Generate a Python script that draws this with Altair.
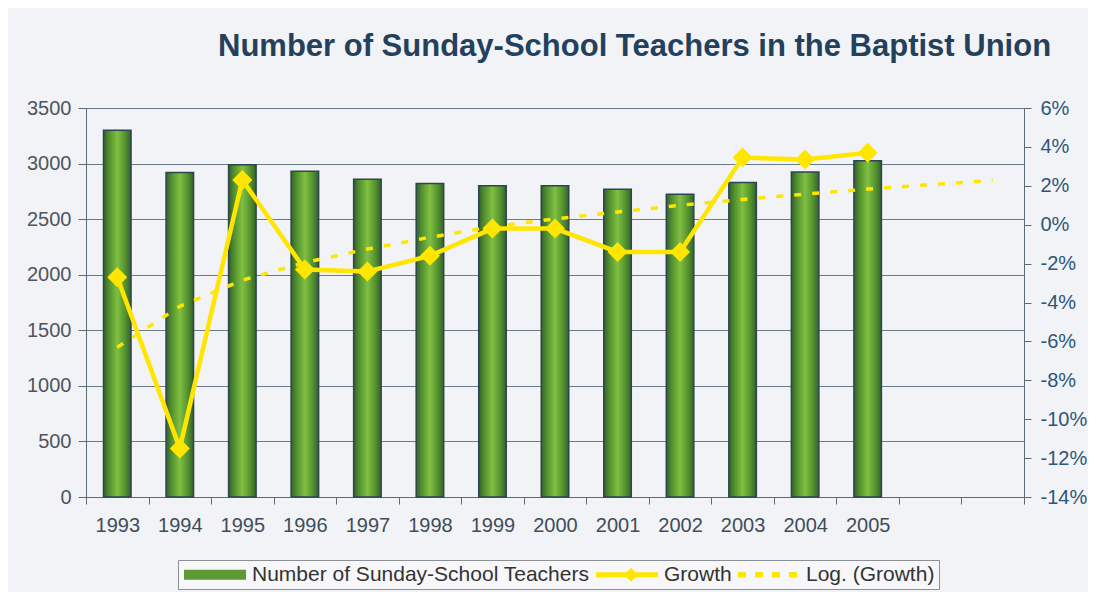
import altair as alt
import pandas as pd

# ---- data ----
years = ["1993", "1994", "1995", "1996", "1997", "1998", "1999",
         "2000", "2001", "2002", "2003", "2004", "2005"]
teachers = [3300, 2920, 2990, 2930, 2860, 2820, 2800, 2800, 2770, 2725, 2830, 2925, 3025]
growth = [-2.7, -11.5, 2.3, -2.3, -2.4, -1.6, -0.2, -0.2, -1.4, -1.4, 3.45, 3.35, 3.7]
# trendline continues two periods beyond the data (blank categories)
trend_x = years + ["+1", "+2"]
trend = [-6.3, -4.2, -2.85, -1.95, -1.25, -0.65, -0.1, 0.3, 0.65, 1.0, 1.3, 1.57, 1.83, 2.06, 2.27]
series_names = ["Number of Sunday-School Teachers", "Growth", "Log. (Growth)"]
left_ticks = [0, 500, 1000, 1500, 2000, 2500, 3000, 3500]
right_ticks = [-14, -12, -10, -8, -6, -4, -2, 0, 2, 4, 6]

FONT = "Liberation Sans"
YELLOW = "#ffe600"

bar_df = pd.DataFrame({"year": years, "teachers": teachers})
growth_df = pd.DataFrame({"year": years, "growth": growth})
trend_df = pd.DataFrame({"year": trend_x, "trend": trend})
legend_df = pd.DataFrame({"series": series_names})

x_enc = alt.X(
    "year:N",
    scale=alt.Scale(domain=trend_x, paddingInner=0, paddingOuter=0),
    axis=alt.Axis(
        title=None, labelAngle=0, tickBand="extent", tickSize=7,
        labelExpr="indexof(datum.label, '+') >= 0 ? '' : datum.label",
        labelFont=FONT, labelFontSize=20, labelColor="#3f4d58", labelPadding=11,
        domainColor="#5b6b78", tickColor="#5b6b78", grid=False,
    ),
)

bar_gradient = alt.Gradient(
    gradient="linear", x1=0, x2=1, y1=0, y2=0,
    stops=[
        alt.GradientStop(color="#36602a", offset=0),
        alt.GradientStop(color="#52902f", offset=0.2),
        alt.GradientStop(color="#80c040", offset=0.5),
        alt.GradientStop(color="#52902f", offset=0.8),
        alt.GradientStop(color="#36602a", offset=1),
    ],
)

bars = alt.Chart(bar_df).mark_bar(
    width=alt.RelativeBandSize(0.44), color=bar_gradient,
    stroke="#2b4650", strokeWidth=1.5,
).encode(
    x=x_enc,
    y=alt.Y(
        "teachers:Q",
        scale=alt.Scale(domain=[0, 3500], nice=False),
        axis=alt.Axis(
            title=None, values=left_ticks, format="d", orient="left",
            labelFont=FONT, labelFontSize=20, labelColor="#4f555c", labelPadding=7,
            tickSize=8, tickColor="#5b6b78", domainColor="#5b6b78",
            grid=True, gridColor="#6a7b89", gridWidth=1,
        ),
    ),
)

right_axis = alt.Axis(
    title=None, values=right_ticks, orient="right", labelOverlap=False,
    labelExpr="datum.value + '%'",
    labelFont=FONT, labelFontSize=20, labelColor="#2d5778", labelPadding=9,
    tickSize=7, tickColor="#5b6b78", domainColor="#5b6b78", grid=False,
)
right_scale = alt.Scale(domain=[-14, 6], nice=False)

trend_line = alt.Chart(trend_df).mark_line(
    color=YELLOW, strokeWidth=3.5, strokeDash=[7, 11],
).encode(x=alt.X("year:N"), y=alt.Y("trend:Q", scale=right_scale, axis=right_axis))

growth_line = alt.Chart(growth_df).mark_line(color=YELLOW, strokeWidth=4.5).encode(
    x=alt.X("year:N"), y=alt.Y("growth:Q", scale=right_scale, axis=right_axis)
)
growth_pts = alt.Chart(growth_df).mark_point(
    shape="diamond", filled=True, size=400, color=YELLOW, opacity=1
).encode(x=alt.X("year:N"), y=alt.Y("growth:Q", scale=right_scale, axis=right_axis))

paths = [
    "M-1.7,-1H10.7V1H-1.7Z",
    "M-1.7,-0.5H10.7V0.5H-1.7Z M5.3,-1.4L6.7,0L5.3,1.4L3.9,0Z",
    "M-1.7,-0.55H-0.1V0.55H-1.7Z M1.7,-0.55H3.3V0.55H1.7Z M5.1,-0.55H6.7V0.55H5.1Z M8.5,-0.55H10.1V0.55H8.5Z",
]
leg = alt.Legend(
    title=None, orient="none", legendX=92, legendY=452, direction="horizontal",
    symbolSize=100, symbolStrokeWidth=0, symbolOpacity=1, labelOffset=49,
    labelFont=FONT, labelFontSize=21, labelColor="#333333", labelLimit=0,
    columnPadding=4, padding=4, strokeColor="#8a9096", fillColor="#f7f7f9",
)
legend_layer = alt.Chart(legend_df).mark_point(filled=True).encode(
    shape=alt.Shape("series:N", scale=alt.Scale(domain=series_names, range=paths), legend=leg),
    color=alt.Color("series:N", scale=alt.Scale(domain=series_names,
                                                 range=["#5d9a34", YELLOW, YELLOW]), legend=leg),
).transform_filter("false")

right = alt.layer(trend_line, growth_line, growth_pts, legend_layer)

chart = alt.layer(bars, right).resolve_scale(y="independent").properties(
    width=938, height=389,
    padding={"left": 78, "top": 100, "right": 64, "bottom": 95},
    autosize=alt.AutoSizeParams(type="none"),
    background="#f2f3f7",
    title=alt.TitleParams(
        "Number of Sunday-School Teachers in the Baptist Union",
        font=FONT, fontSize=31, fontWeight="bold", color="#23415c",
        anchor="start", frame="group", dx=132, offset=35,
    ),
).configure_view(fill="#b6bec6", stroke="#6f7e8a", strokeWidth=1)

chart.save("out.html", embed_options={"renderer": "svg", "actions": False})
